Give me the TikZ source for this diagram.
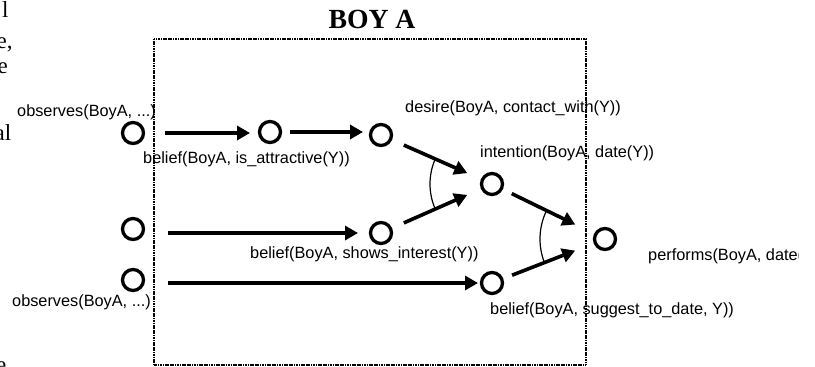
\documentclass[tikz,border=0pt]{standalone}
\usepackage{fontspec}
\setmainfont{Liberation Serif}
\setsansfont{Liberation Sans}
\usetikzlibrary{arrows.meta}
\tikzset{
  st/.style={circle, draw, line width=3.3pt, minimum size=21pt, inner sep=0pt},
  arr/.style={line width=3.6pt, -{Triangle[length=13pt,width=14pt]}},
  lbl/.style={inner sep=0pt, anchor=west, font=\sffamily\fontsize{16.3}{19}\selectfont},
  frag/.style={inner sep=0pt, anchor=base west, font=\rmfamily\fontsize{23}{27}\selectfont},
  conj/.style={line width=1.2pt},
  frame/.style={line width=1.6pt, dash pattern=on 1.2pt off 0.5pt}
}
\begin{document}
\begin{tikzpicture}[x=1pt,y=-1pt]
\useasboundingbox (0,0) rectangle (815,367);
% page text fragments at left edge
\node[frag] (f1) at (2,17) {l};
\node[frag] (f2) at (-3.5,48) {e,};
\node[frag] (f3) at (-2.5,73) {e};
\node[frag] (f4) at (-5.5,140) {al};
\node[frag] (f5) at (-4,372) {e};
% title
\node[inner sep=0pt, font=\rmfamily\bfseries\fontsize{27.7}{32}\selectfont] (title) at (372,19) {BOY A};
% frame
\draw[frame] (154,39) rectangle (586,365);
% states
\node[st] (o1) at (133,133) {};
\node[st] (o2) at (133,229) {};
\node[st] (o3) at (133,280) {};
\node[st] (c2) at (270,132) {};
\node[st] (c3) at (381,135) {};
\node[st] (s)  at (381,233) {};
\node[st] (i)  at (492,184) {};
\node[st] (g)  at (492,283) {};
\node[st] (p)  at (605,239) {};
% arrows
\draw[arr, shorten <=32pt, shorten >=20pt] (o1.center) -- (o1.center -| c2.center);
\draw[arr, shorten <=20pt, shorten >=18pt] (c2.center) -- (c2.center -| c3.center);
\draw[arr, shorten <=35pt, shorten >=23pt] (s.center -| o2.center) -- (s.center);
\draw[arr, shorten <=35pt, shorten >=14pt] (g.center -| o3.center) -- (g.center);
\draw[arr, shorten <=25pt, shorten >=27pt] (c3.center) -- (i.center);
\draw[arr, shorten <=25pt, shorten >=27pt] (s.center) -- (i.center);
\draw[arr, shorten <=22pt, shorten >=33pt] (i.center) -- (p.center);
\draw[arr, shorten <=21.5pt, shorten >=32pt] (g.center) -- (p.center);
% conjunction arcs
\draw[conj] (i.center) ++(156.2:62) arc[start angle=156.2, end angle=203.8, radius=62];
\draw[conj] (p.center) ++(158.7:65) arc[start angle=158.7, end angle=206, radius=65];
% labels
\node[lbl] (l1) at (17,112) {observes(BoyA, ...)};
\node[lbl] (l2) at (143,159) {belief(BoyA, is\_attractive(Y))};
\node[lbl] (l3) at (405,108) {desire(BoyA, contact\_with(Y))};
\node[lbl] (l4) at (480,153) {intention(BoyA, date(Y))};
\node[lbl] (l5) at (250,254) {belief(BoyA, shows\_interest(Y))};
\node[lbl] (l6) at (12,302) {observes(BoyA, ...)};
\node[lbl] (l7) at (490,310) {belief(BoyA, suggest\_to\_date, Y))};
\begin{scope}
\clip (640,240) rectangle (798,275);
\node[lbl] (l8) at (648,256) {performs(BoyA, date(Y))};
\end{scope}
\end{tikzpicture}
\end{document}
